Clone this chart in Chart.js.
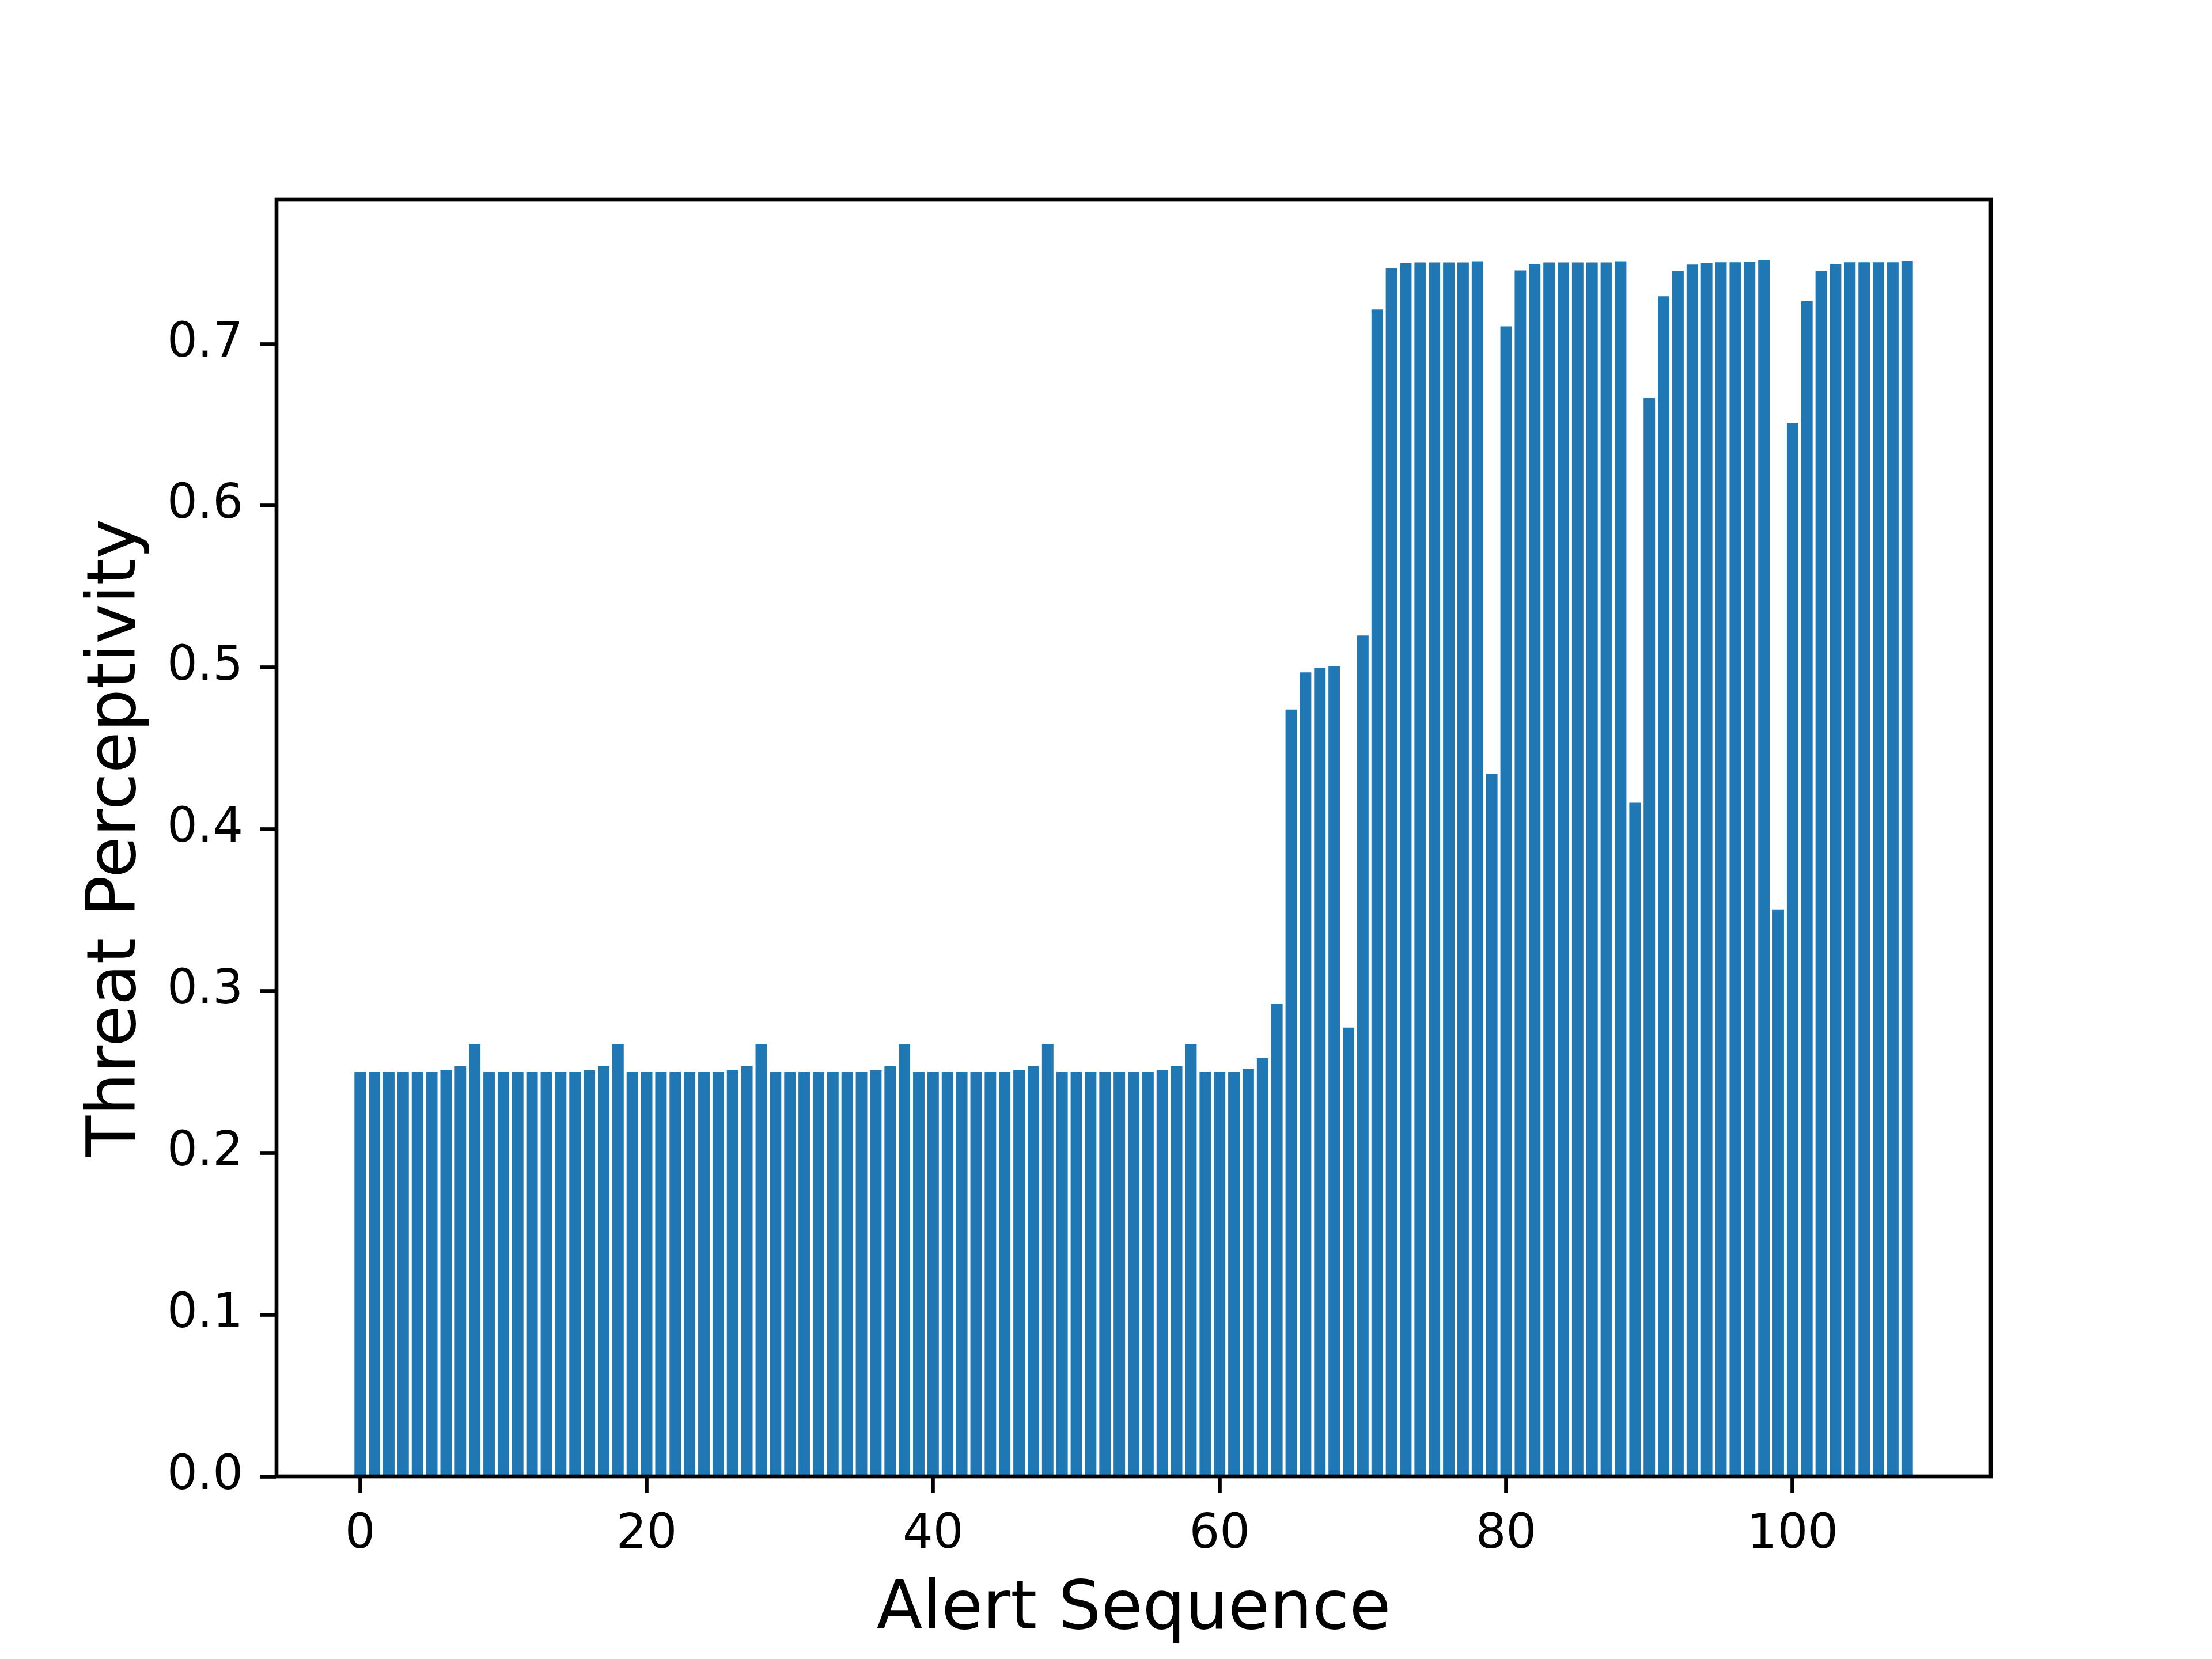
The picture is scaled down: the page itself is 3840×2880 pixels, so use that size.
<!DOCTYPE html>
<html>
<head>
<meta charset="utf-8">
<script src="https://cdn.jsdelivr.net/npm/chart.js@4"></script>
<style>
  body { margin: 0; background: #fff; }
</style>
</head>
<body>
<canvas id="myBarChart" width="3840" height="2880"></canvas>
<script>
// 数値データ
var alertIndex = [];
for (var i = 0; i <= 108; i++) { alertIndex.push(i); }

var threatValues = [
  0.25, 0.25, 0.25, 0.25, 0.25, 0.25, 0.251, 0.2535, 0.2673, 0.25,
  0.25, 0.25, 0.25, 0.25, 0.25, 0.25, 0.251, 0.2535, 0.2673, 0.25,
  0.25, 0.25, 0.25, 0.25, 0.25, 0.25, 0.251, 0.2535, 0.2673, 0.25,
  0.25, 0.25, 0.25, 0.25, 0.25, 0.25, 0.251, 0.2535, 0.2673, 0.25,
  0.25, 0.25, 0.25, 0.25, 0.25, 0.25, 0.251, 0.2535, 0.2673, 0.25,
  0.25, 0.25, 0.25, 0.25, 0.25, 0.25, 0.251, 0.2535, 0.2673, 0.25,
  0.25, 0.25, 0.252, 0.2585, 0.292, 0.474, 0.497, 0.4997, 0.5007, 0.2775,
  0.5198, 0.7213, 0.7467, 0.75, 0.7504, 0.7504, 0.7504, 0.7504, 0.7511, 0.4343,
  0.7109, 0.7454, 0.7495, 0.7504, 0.7504, 0.7504, 0.7504, 0.7504, 0.7511, 0.4164,
  0.6666, 0.7295, 0.7451, 0.7491, 0.7502, 0.7505, 0.7505, 0.7508, 0.7518, 0.3505,
  0.6511, 0.7264, 0.7451, 0.7495, 0.7505, 0.7505, 0.7505, 0.7505, 0.7513
];

var xTicks = [0, 20, 40, 60, 80, 100];
var yTicks = [0.0, 0.1, 0.2, 0.3, 0.4, 0.5, 0.6, 0.7];

var points = alertIndex.map(function (x, k) { return { x: x, y: threatValues[k] }; });

// 枠線（上下左右）
var framePlugin = {
  id: 'frame',
  afterDraw: function (chart) {
    var a = chart.chartArea;
    var c = chart.ctx;
    c.save();
    c.strokeStyle = '#000';
    c.lineWidth = 6.67;
    c.strokeRect(a.left, a.top, a.right - a.left, a.bottom - a.top);
    c.restore();
  }
};

var tickFont = { family: 'DejaVu Sans', size: 83 };
var titleFont = { family: 'DejaVu Sans', size: 117, lineHeight: 1.2 };

var ctx = document.getElementById('myBarChart');
var myBarChart = new Chart(ctx, {
  type: 'bar',
  data: {
    datasets: [{
      data: points,
      backgroundColor: '#1f77b4',
      borderWidth: 0,
      barPercentage: 0.8,
      categoryPercentage: 1.0
    }]
  },
  options: {
    responsive: false,
    animation: false,
    devicePixelRatio: 1,
    layout: { padding: { left: 0, top: 346, right: 384, bottom: 0 } },
    plugins: {
      legend: { display: false },
      tooltip: { enabled: false }
    },
    scales: {
      x: {
        type: 'linear',
        offset: false,
        min: -5.84,
        max: 113.84,
        afterBuildTicks: function (scale) {
          scale.ticks = xTicks.map(function (v) { return { value: v }; });
        },
        afterFit: function (scale) { scale.height = 317; },
        ticks: {
          color: '#000',
          font: tickFont,
          padding: 24,
          maxRotation: 0,
          callback: function (v) { return String(v); }
        },
        grid: {
          offset: false,
          drawOnChartArea: false,
          drawTicks: true,
          tickLength: 29,
          tickWidth: 6.67,
          tickColor: '#000'
        },
        border: { display: false },
        title: {
          display: true,
          text: 'Alert Sequence',
          color: '#000',
          font: titleFont,
          padding: { top: 0, bottom: 13 }
        }
      },
      y: {
        type: 'linear',
        min: 0,
        max: 0.7894,
        afterBuildTicks: function (scale) {
          scale.ticks = yTicks.map(function (v) { return { value: v }; });
        },
        afterFit: function (scale) { scale.width = 480; },
        ticks: {
          color: '#000',
          font: tickFont,
          padding: 29,
          callback: function (v) { return Number(v).toFixed(1); }
        },
        grid: {
          drawOnChartArea: false,
          drawTicks: true,
          tickLength: 29,
          tickWidth: 6.67,
          tickColor: '#000'
        },
        border: { display: false },
        title: {
          display: true,
          text: 'Threat Perceptivity',
          color: '#000',
          font: titleFont,
          padding: { top: 133, bottom: 0 }
        }
      }
    }
  },
  plugins: [framePlugin]
});
</script>
</body>
</html>
